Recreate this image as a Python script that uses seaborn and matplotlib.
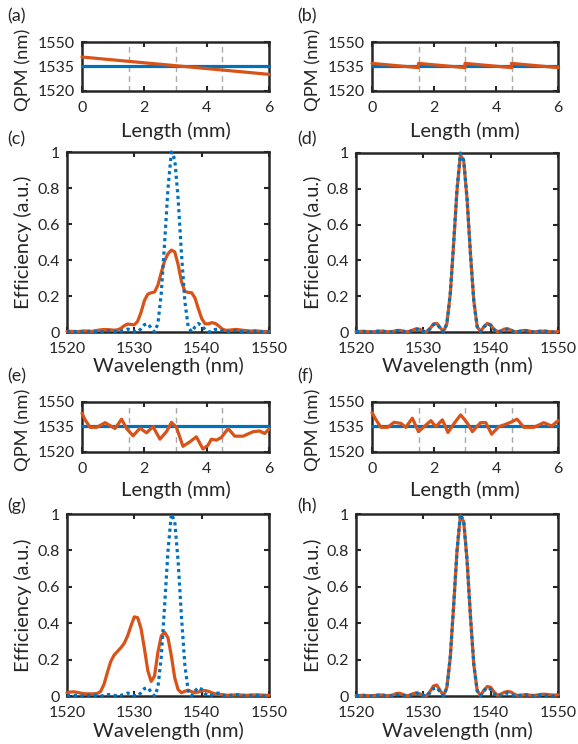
import numpy as np
import seaborn as sns
import matplotlib.pyplot as plt

sns.set_style("ticks")
plt.rcParams['font.family'] = ['Lato', 'DejaVu Sans']

# Data

blue = '#0072BD'
orange = '#D95319'

seg_edges = [1.5, 3.0, 4.5]
qpm_target = 1535.5

# (a) linear chirp, (b) sawtooth, (e)/(f) noisy profiles
a_len = [0.0, 6.0]
a_qpm = [1540.8, 1530.2]
b_len = [0.0, 1.5, 1.5, 3.0, 3.0, 4.5, 4.5, 6.0]
b_qpm = [1536.9, 1534.3, 1536.9, 1534.3, 1536.9, 1534.3, 1536.9, 1534.3]
e_len = [0.0, 0.1, 0.26, 0.47, 0.74, 1.06, 1.27, 1.43, 1.64, 1.86, 2.07, 2.28, 2.50, 2.71, 2.87, 3.03,
         3.24, 3.46, 3.67, 3.88, 4.04, 4.15, 4.31, 4.47, 4.69, 4.90, 5.17, 5.49, 5.70, 5.86, 6.0]
e_qpm = [1543.3, 1539.3, 1534.8, 1534.8, 1537.6, 1534.1, 1539.7, 1534.1, 1529.7, 1534.3, 1531.5, 1535.2,
         1527.7, 1532.2, 1537.8, 1534.8, 1523.4, 1526.1, 1529.1, 1521.8, 1524.0, 1527.7, 1527.1, 1528.7,
         1534.1, 1529.5, 1529.5, 1532.2, 1532.6, 1531.1, 1533.8]
f_len = [0.0, 0.13, 0.29, 0.5, 0.71, 0.93, 1.09, 1.30, 1.50, 1.68, 1.90, 2.06, 2.27, 2.45, 2.65, 2.86,
         3.08, 3.24, 3.50, 3.67, 3.86, 4.09, 4.25, 4.47, 4.68, 4.9, 5.22, 5.54, 5.80, 6.0]
f_qpm = [1543.7, 1539.3, 1534.8, 1534.8, 1537.8, 1537.2, 1534.8, 1540.3, 1532.2, 1535.2, 1538.8, 1535.2,
         1539.3, 1531.7, 1537.2, 1542.3, 1537.2, 1532.2, 1537.6, 1537.6, 1530.7, 1535.2, 1536.2, 1537.8,
         1539.7, 1534.8, 1534.8, 1537.6, 1535.6, 1538.8]

# efficiency spectra, 1520..1550 nm every 0.5 nm
wl = np.arange(1520, 1550.5, 0.5)
eff_ideal = [0.001, 0.003, 0.003, 0.002, 0.000, 0.001, 0.003, 0.005, 0.004, 0.001,
             0.000, 0.003, 0.007, 0.008, 0.004, 0.000, 0.003, 0.011, 0.016, 0.013,
             0.003, 0.001, 0.018, 0.041, 0.046, 0.022, 0.000, 0.046, 0.215, 0.498,
             0.798, 1.000, 0.960, 0.742, 0.436, 0.171, 0.028, 0.001, 0.028, 0.047,
             0.037, 0.013, 0.000, 0.004, 0.014, 0.016, 0.009, 0.001, 0.001, 0.005,
             0.008, 0.006, 0.002, 0.000, 0.002, 0.005, 0.005, 0.002, 0.000, 0.000, 0.002]
eff_c = [0.003, 0.004, 0.003, 0.002, 0.004, 0.006, 0.005, 0.003, 0.005, 0.009,
         0.012, 0.014, 0.013, 0.012, 0.010, 0.012, 0.020, 0.035, 0.044, 0.042,
         0.040, 0.060, 0.110, 0.175, 0.210, 0.218, 0.222, 0.260, 0.330, 0.395,
         0.435, 0.455, 0.445, 0.375, 0.280, 0.225, 0.220, 0.218, 0.190, 0.130,
         0.075, 0.046, 0.045, 0.052, 0.048, 0.035, 0.018, 0.010, 0.010, 0.012,
         0.014, 0.013, 0.010, 0.008, 0.006, 0.005, 0.006, 0.005, 0.003, 0.002, 0.002]
eff_d = [0.001, 0.003, 0.004, 0.003, 0.001, 0.001, 0.003, 0.005, 0.005, 0.002,
         0.001, 0.003, 0.008, 0.009, 0.005, 0.001, 0.004, 0.012, 0.018, 0.015,
         0.004, 0.002, 0.020, 0.045, 0.048, 0.024, 0.002, 0.048, 0.212, 0.492,
         0.790, 0.990, 0.955, 0.740, 0.436, 0.173, 0.030, 0.002, 0.030, 0.048,
         0.040, 0.015, 0.002, 0.006, 0.016, 0.018, 0.011, 0.002, 0.002, 0.006,
         0.009, 0.007, 0.003, 0.001, 0.003, 0.005, 0.005, 0.003, 0.001, 0.001, 0.002]
eff_g = [0.018, 0.022, 0.023, 0.020, 0.016, 0.013, 0.012, 0.012, 0.012, 0.014,
         0.025, 0.065, 0.130, 0.190, 0.225, 0.245, 0.265, 0.290, 0.330, 0.385,
         0.435, 0.430, 0.370, 0.260, 0.140, 0.080, 0.110, 0.240, 0.330, 0.350,
         0.320, 0.220, 0.100, 0.035, 0.018, 0.026, 0.032, 0.024, 0.018, 0.022,
         0.028, 0.030, 0.026, 0.018, 0.012, 0.009, 0.007, 0.005, 0.004, 0.005,
         0.006, 0.006, 0.005, 0.004, 0.004, 0.005, 0.006, 0.006, 0.005, 0.004, 0.004]
eff_h = [0.002, 0.003, 0.004, 0.003, 0.001, 0.002, 0.004, 0.006, 0.005, 0.002,
         0.002, 0.006, 0.014, 0.015, 0.008, 0.002, 0.004, 0.013, 0.017, 0.012,
         0.003, 0.003, 0.025, 0.055, 0.060, 0.030, 0.002, 0.048, 0.212, 0.495,
         0.795, 0.990, 0.958, 0.742, 0.436, 0.172, 0.030, 0.002, 0.032, 0.052,
         0.048, 0.022, 0.004, 0.010, 0.020, 0.025, 0.022, 0.010, 0.003, 0.004,
         0.007, 0.006, 0.004, 0.003, 0.006, 0.009, 0.010, 0.008, 0.006, 0.005, 0.006]

W, H = 578, 744
fig = plt.figure(figsize=(W / 100, H / 100), dpi=100)


def add_ax(l, t, r, b):
    # pixel box -> figure fraction
    return fig.add_axes([l / W, 1 - b / H, (r - l) / W, (b - t) / H])


def style(ax):
    for s in ax.spines.values():
        s.set_linewidth(1.8)
        s.set_color('#262626')
        s.set_zorder(2.5)
    ax.tick_params(direction='in', length=3.5, width=1.5, top=True, right=True,
                   labelsize=11.5, colors='#262626')
    ax.tick_params(axis='x', pad=7)
    ax.tick_params(axis='y', pad=5)


def line(ax, x, y, color, dotted=False):
    kw = dict(estimator=None, sort=False, errorbar=None, legend=False, color=color,
              linewidth=2.3, zorder=3, clip_on=False)
    if dotted:
        kw.update(linestyle=(0, (1, 1.1)), dash_capstyle='butt')
    sns.lineplot(x=x, y=y, ax=ax, **kw)


def qpm_panel(ax, x, y):
    for e in seg_edges:
        ax.axvline(e, color='#a8a8a8', lw=1, ls=(0, (4, 3)), zorder=1)
    line(ax, [0, 6], [qpm_target, qpm_target], blue)
    line(ax, x, y, orange)
    ax.set_xlim(0, 6)
    ax.set_ylim(1520, 1550)
    ax.set_xticks([0, 2, 4, 6])
    ax.set_yticks([1520, 1535, 1550])
    style(ax)


def eff_panel(ax, y):
    line(ax, wl, y, orange)
    line(ax, wl, eff_ideal, blue, dotted=True)
    ax.set_xlim(1520, 1550)
    ax.set_ylim(0, 1)
    ax.set_xticks([1520, 1530, 1540, 1550])
    ax.set_yticks([0, 0.2, 0.4, 0.6, 0.8, 1])
    ax.set_yticklabels(['0', '0.2', '0.4', '0.6', '0.8', '1'])
    style(ax)


boxes = {
    'a': (82, 42, 269, 91), 'b': (372, 42, 558, 91),
    'c': (67, 152, 269, 332), 'd': (356, 153, 558, 332),
    'e': (82, 402, 269, 452), 'f': (372, 402, 558, 452),
    'g': (67, 514, 269, 696), 'h': (356, 514, 558, 696),
}
label_y = {'a': 16, 'b': 16, 'c': 139, 'd': 139, 'e': 376, 'f': 376, 'g': 506, 'h': 506}
xlab_y = {'a': 131, 'b': 131, 'c': 366, 'd': 366, 'e': 490, 'f': 490, 'g': 731, 'h': 731}

axes = {k: add_ax(*v) for k, v in boxes.items()}

qpm_panel(axes['a'], a_len, a_qpm)
qpm_panel(axes['b'], b_len, b_qpm)
qpm_panel(axes['e'], e_len, e_qpm)
qpm_panel(axes['f'], f_len, f_qpm)
eff_panel(axes['c'], eff_c)
eff_panel(axes['d'], eff_d)
eff_panel(axes['g'], eff_g)
eff_panel(axes['h'], eff_h)

for k, (l, t, r, b) in boxes.items():
    left_col = k in 'aceg'
    qpm = k in 'abef'
    fig.text((7 if left_col else 297) / W, 1 - label_y[k] / H, '(%s)' % k,
             fontsize=13, ha='left', va='center', color='#262626')
    xlab = 'Length (mm)' if qpm else 'Wavelength (nm)'
    ylab = 'QPM (nm)' if qpm else 'Efficiency (a.u.)'
    fig.text((l + r) / 2 / W, 1 - xlab_y[k] / H, xlab, fontsize=14.5,
             ha='center', va='center', color='#262626')
    fig.text((23 if left_col else 313) / W, 1 - ((t + b) / 2 + (3 if qpm else 0)) / H, ylab,
             fontsize=13.2 if qpm else 14.5,
             ha='center', va='center', rotation=90, color='#262626')

plt.savefig('out.png', dpi=100)
